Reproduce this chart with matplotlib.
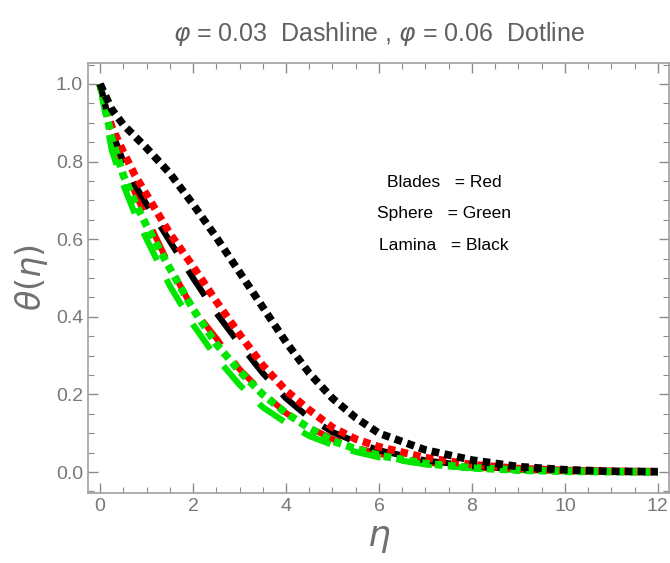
import matplotlib.pyplot as plt
import numpy as np

# eta grid and temperature profiles
eta = [0, 0.25, 0.5, 0.75, 1, 1.5, 2, 2.5, 3, 3.5, 4, 4.5, 5, 5.5, 6, 7, 8, 9, 10, 11, 12]

# phi = 0.03 (dashed)
blades_03 = [1.0, 0.87, 0.79, 0.72, 0.655, 0.53, 0.42, 0.345, 0.265, 0.205, 0.152, 0.115,
             0.085, 0.063, 0.047, 0.025, 0.012, 0.006, 0.003, 0.001, 0.0]
sphere_03 = [1.0, 0.83, 0.74, 0.665, 0.6, 0.48, 0.38, 0.295, 0.225, 0.167, 0.127, 0.093,
             0.07, 0.052, 0.038, 0.02, 0.01, 0.005, 0.002, 0.001, 0.0]
lamina_03 = [1.0, 0.88, 0.8, 0.74, 0.69, 0.595, 0.5, 0.41, 0.33, 0.255, 0.19, 0.14,
             0.103, 0.078, 0.056, 0.03, 0.015, 0.007, 0.003, 0.001, 0.0]

# phi = 0.06 (dotted)
blades_06 = [1.0, 0.89, 0.825, 0.765, 0.715, 0.615, 0.53, 0.44, 0.355, 0.275, 0.21, 0.16,
             0.115, 0.085, 0.065, 0.037, 0.019, 0.009, 0.004, 0.002, 0.001]
sphere_06 = [1.0, 0.86, 0.765, 0.695, 0.635, 0.525, 0.42, 0.33, 0.26, 0.2, 0.152, 0.113,
             0.08, 0.06, 0.043, 0.022, 0.011, 0.005, 0.002, 0.001, 0.0]
lamina_06 = [1.0, 0.935, 0.895, 0.865, 0.835, 0.77, 0.69, 0.605, 0.515, 0.425, 0.335, 0.255,
             0.19, 0.14, 0.1, 0.057, 0.031, 0.014, 0.006, 0.002, 0.001]

legend_lines = ['Blades   = Red', 'Sphere   = Green', 'Lamina   = Black']

plt.rcParams['font.family'] = ['Liberation Sans Narrow', 'Liberation Sans', 'DejaVu Sans']
plt.rcParams['mathtext.fontset'] = 'dejavusans'

fig = plt.figure(figsize=(6.7, 5.63), dpi=100)
ax = fig.add_axes([0.1313, 0.1243, 0.8672, 0.7638])

red = '#ff0000'
green = '#00e600'
black = '#000000'

dash = (0, (5, 3.5))
dot = (0, (1, 0.7))

for y, c in [(blades_03, red), (sphere_03, green), (lamina_03, black)]:
    ax.plot(eta, y, color=c, lw=4.4, linestyle=dash, dash_capstyle='butt')
for y, c in [(blades_06, red), (sphere_06, green), (lamina_06, black)]:
    ax.plot(eta, y, color=c, lw=5.5, linestyle=dot, dash_capstyle='butt')

ax.set_xlim(-0.26, 12.24)
ax.set_ylim(-0.054, 1.054)
ax.set_xticks(np.arange(0, 13, 2))
ax.set_xticks(np.arange(0, 12.01, 0.5), minor=True)
ax.set_yticks(np.arange(0, 1.01, 0.2))
ax.set_yticks(np.arange(-0.05, 1.051, 0.05), minor=True)
ax.set_yticklabels(['0.0', '0.2', '0.4', '0.6', '0.8', '1.0'])

grey = '#8c8c8c'
for s in ax.spines.values():
    s.set_color('#a0a0a0')
    s.set_linewidth(1.2)
ax.tick_params(which='both', direction='in', top=True, right=True, color=grey,
               labelcolor='#787878', labelsize=14)
ax.tick_params(which='major', length=7, width=1)
ax.tick_params(which='minor', length=4, width=0.8)

ax.set_title(r'$\varphi$ = 0.03  Dashline , $\varphi$ = 0.06  Dotline',
             fontsize=18, color='#606060', pad=16)
ax.set_xlabel(r'$\eta$', fontsize=26, color='#707070', labelpad=4)
ax.set_ylabel(r'$\theta(\eta)$', fontsize=24, color='#707070', labelpad=4)

for i, s in enumerate(legend_lines):
    ax.text(7.4, 0.745 - 0.08 * i, s, fontsize=12.5, ha='center', va='center', color='black')

fig.savefig('out.png', dpi=100)
